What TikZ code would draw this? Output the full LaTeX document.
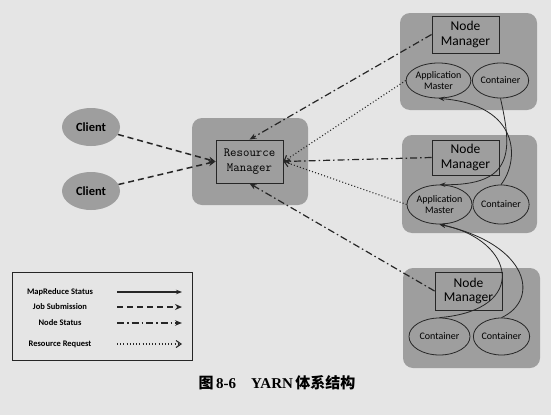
\documentclass[tikz,border=0pt]{standalone}
\usepackage{fontspec}
\setmainfont{Carlito}
\newfontfamily\capfont{Liberation Serif}
\newfontfamily\cjkfont{Noto Sans CJK SC}
\usetikzlibrary{arrows.meta,shapes.geometric}
\definecolor{pagegray}{gray}{0.9}
\definecolor{boxgray}{gray}{0.62}
\definecolor{inkgray}{gray}{0.15}
\tikzset{
  graybox/.style={draw=none, fill=boxgray, rounded corners=10pt, inner sep=0pt},
  nmrect/.style={draw=inkgray, fill=boxgray, line width=0.9pt, inner sep=0pt,
    align=center, font=\fontsize{13.5}{14.5}\selectfont},
  rmrect/.style={draw=inkgray, fill=boxgray, line width=0.9pt, inner sep=0pt,
    align=center, font=\ttfamily\fontsize{12.5}{15}\selectfont},
  taskell/.style={ellipse, draw=inkgray, fill=boxgray, line width=0.8pt, inner sep=0pt,
    align=center, font=\fontsize{10}{10.5}\selectfont},
  clientell/.style={ellipse, draw=none, fill=boxgray, inner sep=0pt,
    font=\bfseries\fontsize{12.5}{13}\selectfont},
  legendtext/.style={font=\bfseries\fontsize{8.5}{9}\selectfont},
  mrstatus/.style={draw=inkgray, line width=0.8pt, -{Stealth[length=6pt,width=4.5pt]}},
  jobsub/.style={draw=inkgray, line width=1.5pt, dash pattern=on 6pt off 4pt,
    -{Stealth[length=7pt,width=6pt]}},
  nodestat/.style={draw=inkgray, line width=1.2pt, dash pattern=on 7pt off 3pt on 1.5pt off 3pt,
    -{Stealth[length=7pt,width=5.5pt]}},
  resreq/.style={draw=inkgray, line width=1.1pt, dash pattern=on 1pt off 2.2pt,
    -{Straight Barb[length=5pt,width=7pt]}}
}
\begin{document}
\begin{tikzpicture}[x=1pt, y=-1pt]
    % page
    \fill[pagegray] (0, 0) rectangle (551, 415);
    % gray boxes
    \node[graybox, minimum width=116pt, minimum height=87pt] (rmbox) at(250, 161.5) {};
    \node[graybox, minimum width=137pt, minimum height=97pt] (nmbox1) at(468.5, 61.5) {};
    \node[graybox, minimum width=135pt, minimum height=98pt] (nmbox2) at(469.5, 184) {};
    \node[graybox, minimum width=137pt, minimum height=100pt] (nmbox3) at(471.5, 318) {};
    % clients and resource manager
    \node[clientell, minimum width=58pt, minimum height=38pt] (client1) at(91, 127) {Client};
    \node[clientell, minimum width=58pt, minimum height=38pt] (client2) at(91, 191) {Client};
    \node[rmrect, minimum width=67pt, minimum height=43pt] (rm) at(249.5, 161.5) {Resource\\Manager};
    % node managers
    \node[nmrect, minimum width=67pt, minimum height=37pt] (nm1) at(465.5, 34.5) {Node\\Manager};
    \node[nmrect, minimum width=67pt, minimum height=35pt] (nm2) at(465.5, 157.5) {Node\\Manager};
    \node[nmrect, minimum width=67pt, minimum height=38pt] (nm3) at(468.5, 291) {Node\\Manager};
    % masters and containers
    \node[taskell, minimum width=63pt, minimum height=35pt] (am1) at(438.5, 80.5) {Application\\Master};
    \node[taskell, minimum width=53pt, minimum height=35pt] (ct1) at(500.5, 80.5) {Container};
    \node[taskell, minimum width=65pt, minimum height=39pt] (am2) at(439.5, 204.5) {Application\\Master};
    \node[taskell, minimum width=54pt, minimum height=39pt] (ct2) at(501, 204.5) {Container};
    \node[taskell, minimum width=61pt, minimum height=37pt] (ct3) at(439.5, 336.5) {Container};
    \node[taskell, minimum width=55pt, minimum height=37pt] (ct4) at(501.5, 336.5) {Container};
    % job submission
    \draw[jobsub] (client1) -- (rm.west);
    \draw[jobsub] (client2) -- (rm.west);
    % node status
    \draw[nodestat] (nm1.west) -- (rm.north);
    \draw[nodestat] (nm2.west) -- (rm.east);
    \draw[nodestat] (nm3.west) -- (rm.south);
    % resource request
    \draw[resreq] (am1.west) -- (rm.east);
    \draw[resreq] (am2.west) -- (rm.east);
    % mapreduce status
    \draw[mrstatus] (ct1.south) .. controls (512, 150) and (515, 186) .. (am2.north);
    \draw[mrstatus] (ct2.north) .. controls (520, 160) and (520, 105) .. (am1.south);
    \draw[mrstatus] (ct3.north) .. controls (530, 310) and (515, 240) .. (am2.south);
    \draw[mrstatus] (ct4.north) .. controls (540, 300) and (530, 245) .. (am2.south);
    % legend
    \node[draw=inkgray, line width=0.8pt, minimum width=180pt, minimum height=88pt] (legend) at(102, 316) {};
    \node[legendtext] (lgmr) at(60, 292) {MapReduce Status};
    \node[legendtext] (lgjob) at(60, 307) {Job Submission};
    \node[legendtext] (lgnode) at(60, 323) {Node Status};
    \node[legendtext] (lgres) at(60, 344) {Resource Request};
    \coordinate (mra) at(117, 292);
    \coordinate (mrb) at(182, 292);
    \coordinate (joba) at(117, 307);
    \coordinate (jobb) at(182, 307);
    \coordinate (nodea) at(117, 323);
    \coordinate (nodeb) at(182, 323);
    \coordinate (resa) at(117, 344);
    \coordinate (resb) at(182, 344);
    \draw[mrstatus, line width=1.2pt] (mra) -- (mrb);
    \draw[jobsub] (joba) -- (jobb);
    \draw[nodestat] (nodea) -- (nodeb);
    \draw[resreq] (resa) -- (resb);
    % caption
    \node (caption) at(277, 383) {\fontsize{15}{16}\selectfont{\cjkfont\bfseries 图}\,{\capfont\bfseries 8-6\quad YARN}\,{\cjkfont\bfseries 体系结构}};
\end{tikzpicture}
\end{document}
